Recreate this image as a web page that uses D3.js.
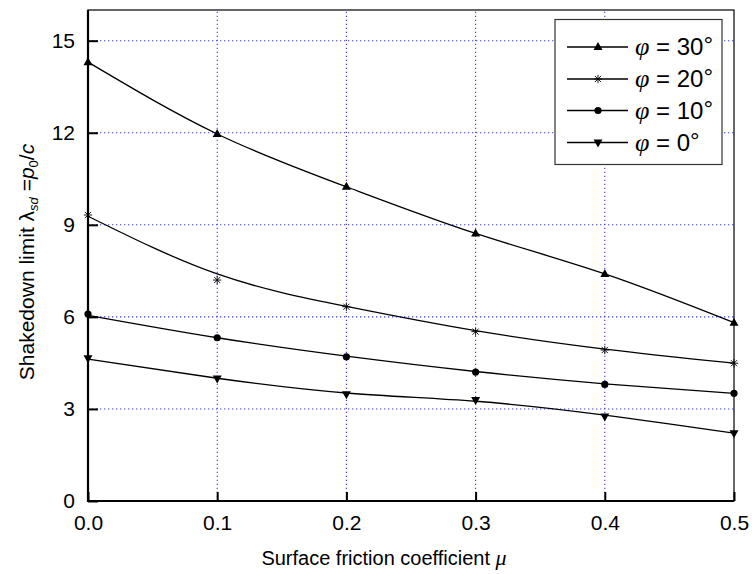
<!DOCTYPE html>
<html>
<head>
<meta charset="utf-8">
<script src="https://cdn.jsdelivr.net/npm/d3@7"></script>
<style>
body { margin: 0; background: #fff; }
text { font-family: "Liberation Sans", Arial, sans-serif; }
</style>
</head>
<body>
<svg id="chart" width="752" height="574"></svg>
<script>
/** x values: surface friction coefficient */
var mu = [0, 0.1, 0.2, 0.3, 0.4, 0.5];

/** tick values */
var xTicks = [0, 0.1, 0.2, 0.3, 0.4, 0.5];
var yTicks = [0, 3, 6, 9, 12, 15];

/** measured points (markers) */
var phi30Points = [14.3, 11.96, 10.24, 8.72, 7.40, 5.81];
var phi20Points = [9.32, 7.20, 6.33, 5.52, 4.92, 4.49];
var phi10Points = [6.09, 5.32, 4.70, 4.20, 3.80, 3.51];
var phi0Points  = [4.65, 3.99, 3.48, 3.29, 2.75, 2.21];

/** fitted curves */
var phi30Curve = [14.3, 11.96, 10.24, 8.72, 7.40, 5.81];
var phi20Curve = [9.28, 7.40, 6.34, 5.55, 4.95, 4.49];
var phi10Curve = [6.05, 5.32, 4.72, 4.22, 3.82, 3.51];
var phi0Curve  = [4.62, 4.00, 3.52, 3.25, 2.80, 2.21];

var seriesNames = ['30', '20', '10', '0'];
var markerTypes = ['triUp', 'star', 'dot', 'triDown'];

var series = [
    {name: seriesNames[0], marker: markerTypes[0], points: phi30Points, curve: phi30Curve},
    {name: seriesNames[1], marker: markerTypes[1], points: phi20Points, curve: phi20Curve},
    {name: seriesNames[2], marker: markerTypes[2], points: phi10Points, curve: phi10Curve},
    {name: seriesNames[3], marker: markerTypes[3], points: phi0Points,  curve: phi0Curve}
];

var svg = d3.select('#chart');

// plot box (note: "top" is reserved on window, so use plot* names)
var plotLeft = 88, plotRight = 734, plotTop = 10, plotBottom = 501;

var x = d3.scaleLinear().domain([0, 0.5]).range([plotLeft, plotRight]);
var y = d3.scaleLinear().domain([0, 16]).range([plotBottom, plotTop]);

// grid (dotted blue)
var grid = svg.append('g');
grid.selectAll('line.gx')
    .data(xTicks.slice(1, 5))
    .enter().append('line')
    .attr('class', 'gx')
    .attr('x1', function (d) { return x(d); })
    .attr('x2', function (d) { return x(d); })
    .attr('y1', plotBottom).attr('y2', plotTop);
grid.selectAll('line.gy')
    .data(yTicks.slice(1))
    .enter().append('line')
    .attr('class', 'gy')
    .attr('y1', function (d) { return y(d); })
    .attr('y2', function (d) { return y(d); })
    .attr('x1', plotLeft).attr('x2', plotRight);
grid.selectAll('line')
    .attr('stroke', '#3a3aff')
    .attr('stroke-width', 1.1)
    .attr('stroke-dasharray', '1.3,2.7');

// axes with inward ticks
var xAxis = d3.axisBottom(x).tickValues(xTicks).tickFormat(d3.format('.1f'))
    .tickSizeInner(-9).tickSizeOuter(0).tickPadding(14);
var yAxis = d3.axisLeft(y).tickValues(yTicks).tickFormat(d3.format('d'))
    .tickSizeInner(-10).tickSizeOuter(0).tickPadding(13);

var gx = svg.append('g').attr('transform', 'translate(0,' + plotBottom + ')').call(xAxis);
var gy = svg.append('g').attr('transform', 'translate(' + plotLeft + ',0)').call(yAxis);

[gx, gy].forEach(function (g) {
    g.select('.domain').remove();
    g.selectAll('.tick line').attr('stroke', '#000').attr('stroke-width', 2);
    g.selectAll('.tick text')
        .attr('font-size', 21)
        .attr('fill', '#000')
        .style('font-family', '"Liberation Sans", Arial, sans-serif');
});
gx.selectAll('.tick text').attr('dy', '0.71em');

// frame
svg.append('rect')
    .attr('x', plotLeft).attr('y', plotTop)
    .attr('width', plotRight - plotLeft).attr('height', plotBottom - plotTop)
    .attr('fill', 'none').attr('stroke', '#000').attr('stroke-width', 1.2);
svg.append('line').attr('x1', plotLeft).attr('x2', plotLeft).attr('y1', plotTop).attr('y2', plotBottom + 1)
    .attr('stroke', '#000').attr('stroke-width', 2.2);
svg.append('line').attr('x1', plotLeft - 1).attr('x2', plotRight).attr('y1', plotBottom).attr('y2', plotBottom)
    .attr('stroke', '#000').attr('stroke-width', 2.2);

// marker drawing
function drawMarker(g, type, cx, cy) {
    if (type === 'triUp') {
        g.append('path')
            .attr('d', 'M' + cx + ',' + (cy - 5) + 'L' + (cx + 4.5) + ',' + (cy + 3) + 'L' + (cx - 4.5) + ',' + (cy + 3) + 'Z')
            .attr('fill', '#000');
    } else if (type === 'triDown') {
        g.append('path')
            .attr('d', 'M' + cx + ',' + (cy + 5) + 'L' + (cx + 4.5) + ',' + (cy - 3) + 'L' + (cx - 4.5) + ',' + (cy - 3) + 'Z')
            .attr('fill', '#000');
    } else if (type === 'dot') {
        g.append('circle').attr('cx', cx).attr('cy', cy).attr('r', 3.6).attr('fill', '#000');
    } else if (type === 'star') {
        var r = 4.2, d = 3.1;
        g.append('path')
            .attr('d', 'M' + (cx - r) + ',' + cy + 'H' + (cx + r) +
                'M' + cx + ',' + (cy - r) + 'V' + (cy + r) +
                'M' + (cx - d) + ',' + (cy - d) + 'L' + (cx + d) + ',' + (cy + d) +
                'M' + (cx - d) + ',' + (cy + d) + 'L' + (cx + d) + ',' + (cy - d))
            .attr('stroke', '#000').attr('stroke-width', 0.9).attr('fill', 'none');
    }
}

var line = d3.line()
    .x(function (d) { return x(d[0]); })
    .y(function (d) { return y(d[1]); })
    .curve(d3.curveNatural);

var plot = svg.append('g');
series.forEach(function (s) {
    plot.append('path')
        .datum(mu.map(function (m, i) { return [m, s.curve[i]]; }))
        .attr('d', line)
        .attr('fill', 'none')
        .attr('stroke', '#000')
        .attr('stroke-width', 1.3);
    mu.forEach(function (m, i) {
        drawMarker(plot, s.marker, x(m), y(s.points[i]));
    });
});

// legend
var legend = svg.append('g');
legend.append('rect')
    .attr('x', 555).attr('y', 19.5)
    .attr('width', 167).attr('height', 145)
    .attr('fill', '#fff').attr('stroke', '#333').attr('stroke-width', 1.2);

var legendRows = [47, 79, 110.5, 142.5];
series.forEach(function (s, i) {
    var ly = legendRows[i];
    legend.append('line')
        .attr('x1', 567).attr('x2', 628).attr('y1', ly).attr('y2', ly)
        .attr('stroke', '#000').attr('stroke-width', 1.3);
    drawMarker(legend, s.marker, 598, ly);
    var t = legend.append('text')
        .attr('x', 635).attr('y', ly + 8)
        .attr('font-size', 24).attr('fill', '#000');
    t.append('tspan').text('\u03c6')
        .style('font-family', '"Liberation Serif", "Times New Roman", serif')
        .style('font-style', 'italic').attr('font-size', 26);
    t.append('tspan').text(' = ' + s.name);
    t.append('tspan').text('\u00b0').attr('dy', -2);
});

// x axis title
var xt = svg.append('text')
    .attr('x', 384).attr('y', 565)
    .attr('text-anchor', 'middle')
    .attr('font-size', 20).attr('fill', '#000');
xt.append('tspan').text('Surface friction coefficient ');
xt.append('tspan').text('\u03bc')
    .style('font-family', '"Liberation Serif", "Times New Roman", serif')
    .style('font-style', 'italic').attr('font-size', 22);

// y axis title
var yt = svg.append('text')
    .attr('transform', 'translate(34,262) rotate(-90)')
    .attr('text-anchor', 'middle')
    .attr('font-size', 21).attr('fill', '#000');
yt.append('tspan').text('Shakedown limit \u03bb');
yt.append('tspan').text('sd').attr('font-size', 13).attr('dy', 4).style('font-style', 'italic');
yt.append('tspan').text(' =').attr('dy', -4);
yt.append('tspan').text('p').style('font-style', 'italic');
yt.append('tspan').text('0').attr('font-size', 13).attr('dy', 4);
yt.append('tspan').text('/').attr('dy', -4);
yt.append('tspan').text('c').style('font-style', 'italic');
</script>
</body>
</html>
